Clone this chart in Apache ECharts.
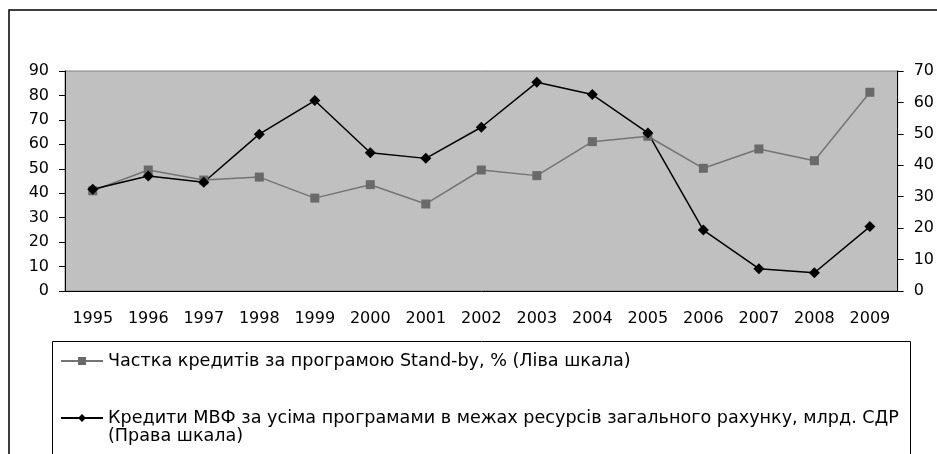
<!DOCTYPE html>
<html>
<head>
<meta charset="utf-8">
<script src="https://cdn.jsdelivr.net/npm/echarts@6/dist/echarts.min.js"></script>
<style>
  html, body { margin: 0; padding: 0; background: #fff; }
  #chart { width: 937px; height: 454px; }
</style>
</head>
<body>
<div id="chart"></div>
<script>
// data
const years = ['1995', '1996', '1997', '1998', '1999', '2000', '2001', '2002',
               '2003', '2004', '2005', '2006', '2007', '2008', '2009'];
// left scale, %
const standByShare = [41.0, 49.5, 45.4, 46.6, 38.0, 43.5, 35.6, 49.5,
                      47.2, 61.1, 63.3, 50.2, 58.1, 53.3, 81.3];
// right scale, bn SDR
const imfCredits = [32.4, 36.6, 34.6, 49.9, 60.6, 44.0, 42.2, 52.1,
                    66.4, 62.5, 50.3, 19.4, 7.1, 5.8, 20.5];
const leftScale = { min: 0, max: 90, step: 10 };
const rightScale = { min: 0, max: 70, step: 10 };

const nameShare = 'Частка кредитів за програмою Stand-by, % (Ліва шкала)';
const nameCredits = 'Кредити МВФ за усіма програмами в межах ресурсів загального рахунку, млрд. СДР';
const nameCreditsTail = '(Права шкала)';

const font = 'DejaVu Sans';

const legendBase = {
    orient: 'vertical',
    left: 60,
    padding: 0,
    itemWidth: 42,
    itemHeight: 10,
    selectedMode: false,
    textStyle: { fontFamily: font, fontSize: 17.6, color: '#000', lineHeight: 18 }
};

const chart = echarts.init(document.getElementById('chart'));

chart.setOption({
    animation: false,
    textStyle: { fontFamily: font, color: '#000' },
    graphic: [
        {   // outer frame
            type: 'rect',
            shape: { x: 9, y: 10, width: 1000, height: 1000 },
            style: { fill: 'none', stroke: '#000', lineWidth: 1.5 },
            silent: true
        },
        {   // legend frame
            type: 'rect',
            shape: { x: 52.5, y: 341.5, width: 858, height: 200 },
            style: { fill: 'none', stroke: '#000', lineWidth: 1 },
            silent: true
        }
    ],
    grid: {
        left: 65,
        right: 35,
        top: 71,
        height: 220,
        show: true,
        backgroundColor: '#c0c0c0',
        borderColor: '#808080',
        borderWidth: 1
    },
    legend: [
        Object.assign({}, legendBase, { top: 352, data: [nameShare] }),
        Object.assign({}, legendBase, {
            top: 391,
            data: [nameCredits],
            // blank first line keeps the marker level with the first text line
            formatter: function (name) { return '\n' + name + '\n' + nameCreditsTail; }
        })
    ],
    xAxis: {
        type: 'category',
        data: years,
        boundaryGap: true,
        axisLine: { lineStyle: { color: '#000', width: 1 } },
        axisTick: { length: 6, lineStyle: { color: '#000' } },
        axisLabel: { fontFamily: font, fontSize: 16, color: '#000', margin: 20 }
    },
    yAxis: [
        {
            type: 'value',
            min: leftScale.min,
            max: leftScale.max,
            interval: leftScale.step,
            axisLine: { show: true, lineStyle: { color: '#000' } },
            axisTick: { show: true, length: 6, lineStyle: { color: '#000' } },
            splitLine: { show: false },
            axisLabel: { fontFamily: font, fontSize: 16, color: '#000', margin: 16 }
        },
        {
            type: 'value',
            position: 'right',
            min: rightScale.min,
            max: rightScale.max,
            interval: rightScale.step,
            axisLine: { show: true, lineStyle: { color: '#000' } },
            axisTick: { show: true, length: 6, lineStyle: { color: '#000' } },
            splitLine: { show: false },
            axisLabel: { fontFamily: font, fontSize: 16, color: '#000', margin: 16 }
        }
    ],
    series: [
        {
            name: nameShare,
            type: 'line',
            yAxisIndex: 0,
            data: standByShare,
            symbol: 'rect',
            symbolSize: 9,
            itemStyle: { color: '#6a6a6a' },
            lineStyle: { color: '#747474', width: 1.5 }
        },
        {
            name: nameCredits,
            type: 'line',
            yAxisIndex: 1,
            data: imfCredits,
            symbol: 'diamond',
            symbolSize: 11,
            itemStyle: { color: '#000' },
            lineStyle: { color: '#000', width: 1.5 }
        }
    ]
});
</script>
</body>
</html>
